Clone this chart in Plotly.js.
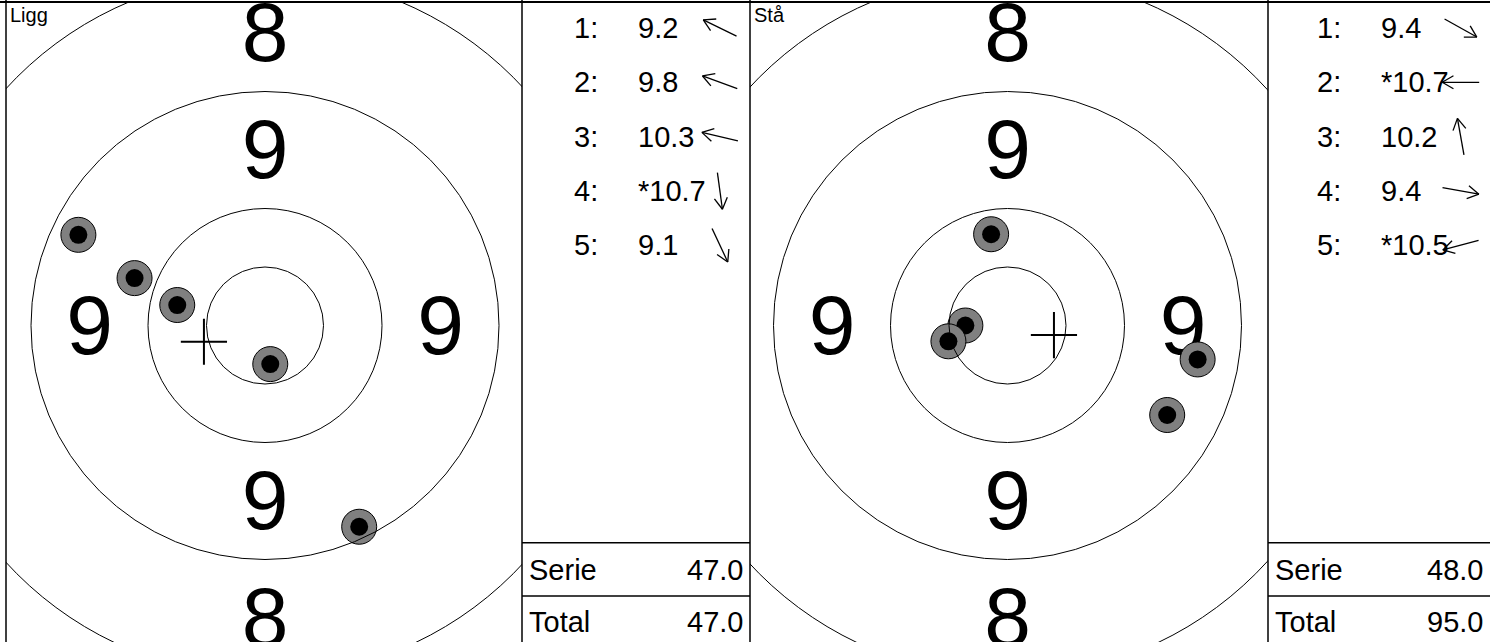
<!DOCTYPE html>
<html><head><meta charset="utf-8">
<script src="https://cdn.plot.ly/plotly-3.0.1.min.js"></script>
<style>html,body{margin:0;padding:0;background:#fff}#chart{width:1490px;height:642px}</style>
</head><body><div id="chart"></div>
<script>
// ---------- data ----------
const panelNames = ['Ligg', 'Stå'];
const ringRadii = [1, 2, 4, 6];
const zoneLabels = ['9', '8'];          // zones between rings 2-4 and 4-6
const liggX = [-3.19, -2.23, -1.50, 0.09, 1.61];
const liggY = [1.55, 0.81, 0.35, -0.66, -3.44];
const liggScores = ['9.2', '9.8', '10.3', '*10.7', '9.1'];
const staX = [2.73, -0.72, -0.28, 3.25, -1.01];
const staY = [-1.53, 0.00, 1.56, -0.58, -0.27];
const staScores = ['9.4', '*10.7', '10.2', '9.4', '*10.5'];
const serieValues = [47.0, 48.0];
const totalValues = [47.0, 95.0];
const summaryLabels = ['Serie', 'Total'];

// ---------- layout constants ----------
const W = 1490, H = 642, TOP = 2, CY = 325.5, PPU = 58.5;
const FONT = 'Liberation Sans, Arial, sans-serif';
const LABEL_DROP = 7 / PPU;   // visual centring of big digits
const ARROW_LEN = 37, HEAD_LEN = 13, HEAD_ANG = 30 * Math.PI / 180;
const panels = [
  {x0: 6, x1: 522, cx: 265, s0: 522, s1: 750, xs: liggX, ys: liggY, scores: liggScores},
  {x0: 750, x1: 1268, cx: 1007.5, s0: 1268, s1: 1490, xs: staX, ys: staY, scores: staScores}
];
const px = v => v / W;
const py = v => 1 - v / H;

const traces = [];
const shapes = [];
const annotations = [];
const layout = {
  width: W, height: H, margin: {l: 0, r: 0, t: 0, b: 0},
  paper_bgcolor: '#fff', plot_bgcolor: 'rgba(0,0,0,0)',
  showlegend: false, font: {family: FONT, color: '#000'}
};
const pline = (xa, ya, xb, yb, w) => shapes.push({type: 'line', xref: 'paper', yref: 'paper',
  x0: px(xa), y0: py(ya), x1: px(xb), y1: py(yb), line: {color: '#000', width: w}});

panels.forEach((p, i) => {
  const sfx = i === 0 ? '' : '2';
  const xa = 'x' + sfx, ya = 'y' + sfx;
  const xr = [(p.x0 - p.cx) / PPU, (p.x1 - p.cx) / PPU];
  layout['xaxis' + sfx] = {domain: [px(p.x0), px(p.x1)], range: xr, visible: false, fixedrange: true};
  layout['yaxis' + sfx] = {domain: [0, py(TOP)], range: [(CY - H) / PPU, (CY - TOP) / PPU],
    visible: false, fixedrange: true};

  // zone labels (only where the zone lies inside the visible panel)
  const lx = [], ly = [], lt = [];
  zoneLabels.forEach((lab, k) => {
    const r = (ringRadii[k + 1] + ringRadii[k + 2]) / 2;
    [[0, r], [0, -r], [-r, 0], [r, 0]].forEach(([a, b]) => {
      if (a > xr[0] && a < xr[1]) { lx.push(a); ly.push(b - LABEL_DROP); lt.push(lab); }
    });
  });
  traces.push({type: 'scatter', mode: 'text', x: lx, y: ly, text: lt, xaxis: xa, yaxis: ya,
    textfont: {size: 84, family: FONT, color: '#000'}, textposition: 'middle center', hoverinfo: 'skip'});

  // shots
  const sx = [], sy = [], ss = [], sc = [], sw = [];
  p.xs.forEach((x, k) => {
    sx.push(x, x); sy.push(p.ys[k], p.ys[k]);
    ss.push(35, 18); sc.push('#808080', '#000000'); sw.push(1, 0);
  });
  traces.push({type: 'scatter', mode: 'markers', x: sx, y: sy, xaxis: xa, yaxis: ya, hoverinfo: 'skip',
    marker: {size: ss, color: sc, opacity: 1, line: {color: '#000', width: sw}}});

  // mean point of impact
  const mx = p.xs.reduce((a, b) => a + b, 0) / p.xs.length;
  const my = p.ys.reduce((a, b) => a + b, 0) / p.ys.length;
  traces.push({type: 'scatter', mode: 'markers', x: [mx], y: [my], xaxis: xa, yaxis: ya, hoverinfo: 'skip',
    marker: {symbol: 'cross-thin', size: 33, color: '#000', line: {color: '#000', width: 2}}});

  // rings
  ringRadii.forEach(r => shapes.push({type: 'circle', xref: xa, yref: ya, x0: -r, x1: r, y0: -r, y1: r,
    line: {color: '#000', width: 1}, layer: 'above'}));

  // borders
  pline(p.x0, 0, p.x0, H, 1.5);
  pline(p.s0, 0, p.s0, H, 1.5);
  pline(p.s0, 542.7, p.s1, 542.7, 1.5);
  pline(p.s0, 596, p.s1, 596, 1.5);

  // panel name
  annotations.push({xref: 'paper', yref: 'paper', x: px(p.x0 + 2), y: py(15), xanchor: 'left', yanchor: 'middle',
    text: panelNames[i], showarrow: false, font: {size: 20, family: FONT, color: '#000'}});

  // score rows
  const w = p.s1 - p.s0;
  p.scores.forEach((s, k) => {
    const ry = 28 + k * 54.3;
    annotations.push({xref: 'paper', yref: 'paper', x: px(p.s0 + 0.34 * w), y: py(ry), xanchor: 'right', yanchor: 'middle',
      text: (k + 1) + ':', showarrow: false, font: {size: 29, family: FONT, color: '#000'}});
    annotations.push({xref: 'paper', yref: 'paper', x: px(p.s0 + 0.50 * w), y: py(ry), xanchor: 'left', yanchor: 'middle',
      text: s, showarrow: false, font: {size: 29, family: FONT, color: '#000'}});
    // direction arrow (shaft + open head), pointing from target centre towards the shot
    const d = Math.hypot(p.xs[k], p.ys[k]);
    const ux = p.xs[k] / d, uy = -p.ys[k] / d;     // screen direction
    const acx = p.s0 + 0.868 * w;
    const hx = acx + ARROW_LEN / 2 * ux, hy = ry + ARROW_LEN / 2 * uy;
    const tx = acx - ARROW_LEN / 2 * ux, ty = ry - ARROW_LEN / 2 * uy;
    pline(tx, ty, hx, hy, 1.3);
    [HEAD_ANG, -HEAD_ANG].forEach(a => {
      const bx = -ux * Math.cos(a) + uy * Math.sin(a);
      const by = -uy * Math.cos(a) - ux * Math.sin(a);
      pline(hx, hy, hx + HEAD_LEN * bx, hy + HEAD_LEN * by, 1.3);
    });
  });

  // summary rows
  [serieValues[i], totalValues[i]].forEach((v, k) => {
    const ry = k === 0 ? 569.5 : 622;
    annotations.push({xref: 'paper', yref: 'paper', x: px(p.s0 + 5), y: py(ry), xanchor: 'left', yanchor: 'middle',
      text: summaryLabels[k], showarrow: false, font: {size: 29, family: FONT, color: '#000'}});
    annotations.push({xref: 'paper', yref: 'paper', x: px(p.s1 - 5), y: py(ry), xanchor: 'right', yanchor: 'middle',
      text: v.toFixed(1), showarrow: false, font: {size: 29, family: FONT, color: '#000'}});
  });
});

// top frame line
pline(0, TOP, W, TOP, 2);

layout.shapes = shapes;
layout.annotations = annotations;
Plotly.newPlot('chart', traces, layout, {displayModeBar: false, staticPlot: true});
</script></body></html>
